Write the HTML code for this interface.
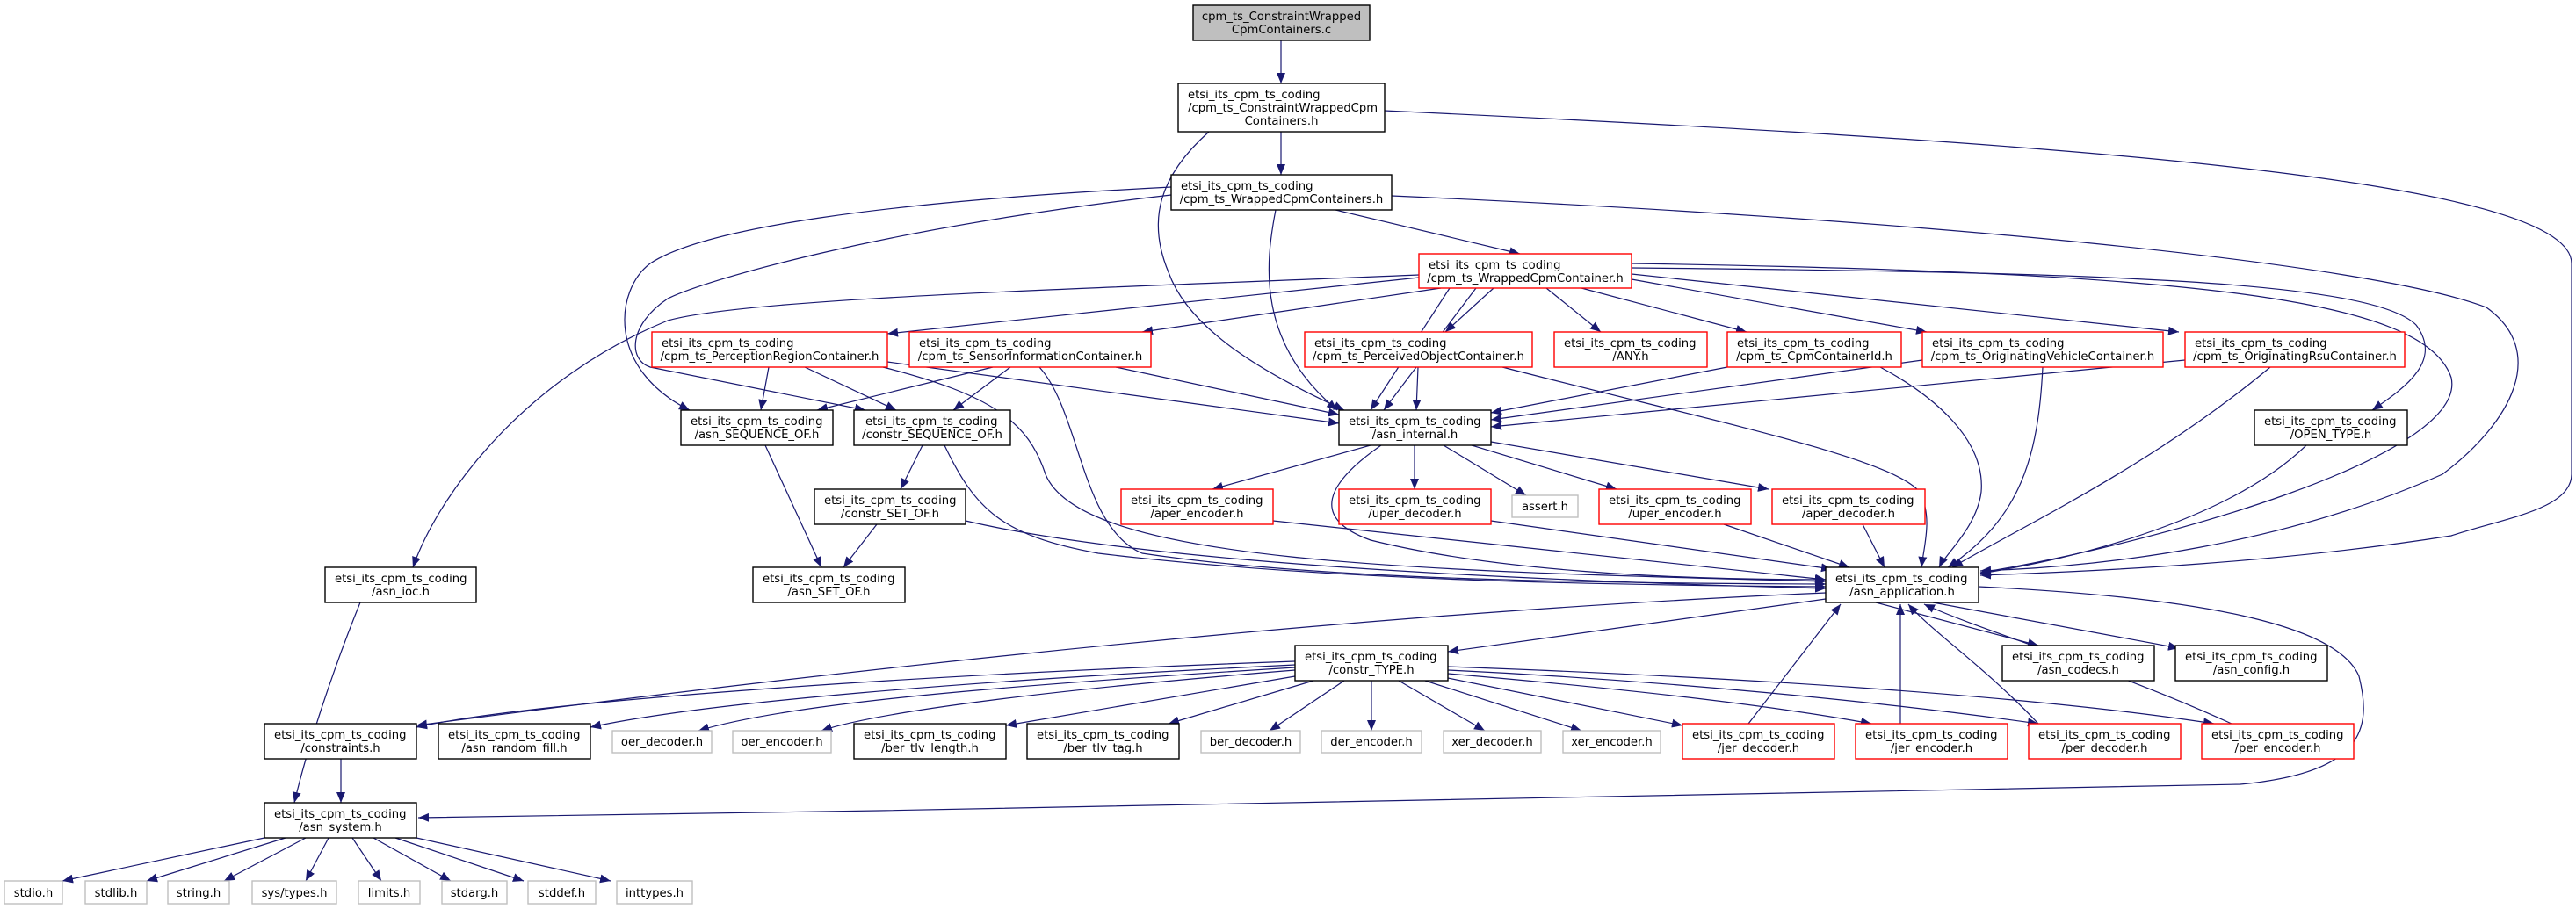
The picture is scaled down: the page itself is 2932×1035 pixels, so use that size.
<!DOCTYPE html>
<html><head><meta charset="utf-8"><style>
html,body{margin:0;padding:0;background:#fff;}
svg{display:block}
text{font-family:"DejaVu Sans","Liberation Sans",sans-serif;font-size:13.2px;fill:#000}
.b{fill:#fff;stroke:#000;stroke-width:1.4}
.r{fill:#fff;stroke:#ff0000;stroke-width:1.4}
.g{fill:#fff;stroke:#bfbfbf;stroke-width:1.4}
.e{fill:none;stroke:#191970;stroke-width:1.2}
</style></head><body>
<svg width="2932" height="1035" viewBox="0 0 2932 1035" xmlns="http://www.w3.org/2000/svg">
<defs><marker id="a" markerUnits="userSpaceOnUse" markerWidth="14" markerHeight="12" refX="12" refY="5" orient="auto"><path d="M0,0 L12,5 L0,10 z" fill="#191970"/></marker></defs>
<g class="e" marker-end="url(#a)">
<path d="M1458,46 L1458,95"/>
<path d="M1458,150 L1458,199"/>
<path d="M1376,150 C1320,200 1305,250 1330,310 C1355,380 1450,430 1530,467"/>
<path d="M1576,126 C2300,160 2927,200 2927,300 L2927,540 C2927,580 2850,590 2790,610 C2600,640 2400,650 2254,655"/>
<path d="M1520,239 L1730,289"/>
<path d="M1452,239 C1440,300 1430,390 1522,467"/>
<path d="M1584,223 C2200,250 2700,300 2830,350 C2900,400 2860,480 2780,540 C2600,620 2400,645 2254,650"/>
<path d="M1333,213 C1000,230 800,260 740,300 C700,330 690,420 785,467"/>
<path d="M1333,222 C1000,260 800,320 760,340 C715,370 715,410 740,418 L985,467"/>
<path d="M1615,316 L1010,380"/>
<path d="M1640,328 L1300,378"/>
<path d="M1700,328 L1645,378"/>
<path d="M1760,328 L1822,378"/>
<path d="M1800,328 L1988,378"/>
<path d="M1857,318 L2193,378"/>
<path d="M1857,312 L2480,378"/>
<path d="M1857,305 C2400,310 2700,320 2750,370 C2780,410 2740,440 2700,467"/>
<path d="M1857,300 C2500,310 2760,340 2790,430 C2810,520 2450,620 2254,652"/>
<path d="M1650,328 L1560,467"/>
<path d="M1680,328 L1575,467"/>
<path d="M1615,313 C1200,330 850,340 760,365 C600,430 500,560 470,646"/>
<path d="M875,418 L866,467"/>
<path d="M916,418 L1020,467"/>
<path d="M1010,412 L1524,482"/>
<path d="M1005,418 C1130,450 1170,480 1190,540 C1230,640 1600,650 2078,662"/>
<path d="M1130,418 L930,467"/>
<path d="M1150,418 L1085,467"/>
<path d="M1270,418 L1524,472"/>
<path d="M1183,418 C1230,470 1230,600 1300,630 C1500,660 1800,664 2078,665"/>
<path d="M1614,418 L1612,467"/>
<path d="M1710,418 C1950,480 2150,520 2185,560 C2200,590 2190,620 2187,646"/>
<path d="M1966,418 L1697,470"/>
<path d="M2140,418 C2200,450 2260,500 2255,560 C2250,600 2215,630 2207,646"/>
<path d="M2188,410 L1697,478"/>
<path d="M2325,418 C2320,520 2300,590 2217,646"/>
<path d="M2487,410 L1697,486"/>
<path d="M2584,418 C2450,530 2300,600 2222,646"/>
<path d="M2625,507 C2550,580 2400,630 2254,653"/>
<path d="M871,507 L935,646"/>
<path d="M1050,507 L1025,557"/>
<path d="M1075,507 C1110,580 1140,610 1250,630 C1500,660 1800,666 2078,668"/>
<path d="M998,597 L960,646"/>
<path d="M1099,593 C1300,640 1700,660 2078,670"/>
<path d="M1560,507 L1380,557"/>
<path d="M1610,507 L1610,557"/>
<path d="M1643,507 L1737,564"/>
<path d="M1675,507 L1840,557"/>
<path d="M1697,503 L2013,557"/>
<path d="M1572,507 C1510,550 1490,590 1560,615 C1700,650 1900,660 2078,660"/>
<path d="M1449,593 L2078,660"/>
<path d="M1697,593 L2085,648"/>
<path d="M1962,597 L2105,646"/>
<path d="M2120,597 L2145,646"/>
<path d="M410,686 C380,760 350,850 335,914"/>
<path d="M2078,682 L1648,742"/>
<path d="M2135,686 L2320,735"/>
<path d="M2200,686 L2480,738"/>
<path d="M2078,675 C1500,700 900,770 474,826"/>
<path d="M2252,668 C2500,680 2660,710 2685,770 C2700,830 2690,880 2550,893 L1000,923 C700,928 550,930 476,931"/>
<path d="M1990,824 L2095,688"/>
<path d="M2163,824 L2163,688"/>
<path d="M2320,824 C2260,760 2200,720 2172,688"/>
<path d="M2540,824 C2400,760 2260,720 2190,688"/>
<path d="M1474,753 C1000,770 600,800 474,828"/>
<path d="M1474,757 C1100,775 800,800 672,828"/>
<path d="M1474,760 C1150,780 900,800 795,832"/>
<path d="M1474,763 C1200,785 1000,810 935,832"/>
<path d="M1474,770 L1145,826"/>
<path d="M1495,775 L1330,824"/>
<path d="M1530,775 L1445,832"/>
<path d="M1561,775 L1561,832"/>
<path d="M1592,775 L1690,832"/>
<path d="M1622,775 L1800,832"/>
<path d="M1648,772 L1915,826"/>
<path d="M1648,767 C1800,780 2000,800 2130,824"/>
<path d="M1648,763 C1900,775 2150,800 2320,824"/>
<path d="M1648,759 C1950,770 2300,790 2520,824"/>
<path d="M388,864 L388,914"/>
<path d="M301,954 L71,1003"/>
<path d="M325,954 L167,1003"/>
<path d="M348,954 L255,1003"/>
<path d="M374,954 L348,1003"/>
<path d="M401,954 L434,1003"/>
<path d="M425,954 L513,1003"/>
<path d="M450,954 L596,1003"/>
<path d="M474,954 L695,1003"/>
</g>

<rect x="1358" y="6" width="201" height="40" fill="#bfbfbf" stroke="#000" stroke-width="1.4"/>
<text x="1458.5" y="23" text-anchor="middle">cpm_ts_ConstraintWrapped</text>
<text x="1458.5" y="38" text-anchor="middle">CpmContainers.c</text>

<rect class="b" x="1341" y="95" width="235" height="55"/>
<text x="1352" y="112">etsi_its_cpm_ts_coding</text>
<text x="1352" y="127">/cpm_ts_ConstraintWrappedCpm</text>
<text x="1458.5" y="142" text-anchor="middle">Containers.h</text>

<rect class="b" x="1333" y="199" width="251" height="40"/>
<text x="1344" y="216">etsi_its_cpm_ts_coding</text>
<text x="1458.5" y="231" text-anchor="middle">/cpm_ts_WrappedCpmContainers.h</text>

<rect class="r" x="1615" y="289" width="242" height="39"/>
<text x="1626" y="306">etsi_its_cpm_ts_coding</text>
<text x="1736" y="321" text-anchor="middle">/cpm_ts_WrappedCpmContainer.h</text>

<rect class="r" x="742" y="378" width="268" height="40"/>
<text x="753" y="395">etsi_its_cpm_ts_coding</text>
<text x="876" y="410" text-anchor="middle">/cpm_ts_PerceptionRegionContainer.h</text>
<rect class="r" x="1035" y="378" width="275" height="40"/>
<text x="1046" y="395">etsi_its_cpm_ts_coding</text>
<text x="1172.5" y="410" text-anchor="middle">/cpm_ts_SensorInformationContainer.h</text>
<rect class="r" x="1485" y="378" width="259" height="40"/>
<text x="1496" y="395">etsi_its_cpm_ts_coding</text>
<text x="1614.5" y="410" text-anchor="middle">/cpm_ts_PerceivedObjectContainer.h</text>
<rect class="r" x="1769" y="378" width="174" height="40"/>
<text x="1780" y="395">etsi_its_cpm_ts_coding</text>
<text x="1856" y="410" text-anchor="middle">/ANY.h</text>
<rect class="r" x="1966" y="378" width="198" height="40"/>
<text x="1977" y="395">etsi_its_cpm_ts_coding</text>
<text x="2065" y="410" text-anchor="middle">/cpm_ts_CpmContainerId.h</text>
<rect class="r" x="2188" y="378" width="274" height="40"/>
<text x="2199" y="395">etsi_its_cpm_ts_coding</text>
<text x="2325" y="410" text-anchor="middle">/cpm_ts_OriginatingVehicleContainer.h</text>
<rect class="r" x="2487" y="378" width="250" height="40"/>
<text x="2498" y="395">etsi_its_cpm_ts_coding</text>
<text x="2612" y="410" text-anchor="middle">/cpm_ts_OriginatingRsuContainer.h</text>

<rect class="b" x="775" y="467" width="173" height="40"/>
<text x="786" y="484">etsi_its_cpm_ts_coding</text>
<text x="861.5" y="499" text-anchor="middle">/asn_SEQUENCE_OF.h</text>
<rect class="b" x="972" y="467" width="178" height="40"/>
<text x="985" y="484">etsi_its_cpm_ts_coding</text>
<text x="1061" y="499" text-anchor="middle">/constr_SEQUENCE_OF.h</text>
<rect class="b" x="1524" y="467" width="173" height="40"/>
<text x="1535" y="484">etsi_its_cpm_ts_coding</text>
<text x="1610.5" y="499" text-anchor="middle">/asn_internal.h</text>
<rect class="b" x="2566" y="467" width="174" height="40"/>
<text x="2577" y="484">etsi_its_cpm_ts_coding</text>
<text x="2653" y="499" text-anchor="middle">/OPEN_TYPE.h</text>

<rect class="b" x="927" y="557" width="172" height="40"/>
<text x="938" y="574">etsi_its_cpm_ts_coding</text>
<text x="1013" y="589" text-anchor="middle">/constr_SET_OF.h</text>
<rect class="r" x="1276" y="557" width="173" height="40"/>
<text x="1287" y="574">etsi_its_cpm_ts_coding</text>
<text x="1362.5" y="589" text-anchor="middle">/aper_encoder.h</text>
<rect class="r" x="1524" y="557" width="173" height="40"/>
<text x="1535" y="574">etsi_its_cpm_ts_coding</text>
<text x="1610.5" y="589" text-anchor="middle">/uper_decoder.h</text>
<rect class="g" x="1721" y="564" width="75" height="25"/>
<text x="1758.5" y="581" text-anchor="middle">assert.h</text>
<rect class="r" x="1820" y="557" width="173" height="40"/>
<text x="1831" y="574">etsi_its_cpm_ts_coding</text>
<text x="1906.5" y="589" text-anchor="middle">/uper_encoder.h</text>
<rect class="r" x="2017" y="557" width="174" height="40"/>
<text x="2028" y="574">etsi_its_cpm_ts_coding</text>
<text x="2104" y="589" text-anchor="middle">/aper_decoder.h</text>

<rect class="b" x="370" y="646" width="172" height="40"/>
<text x="381" y="663">etsi_its_cpm_ts_coding</text>
<text x="456" y="678" text-anchor="middle">/asn_ioc.h</text>
<rect class="b" x="857" y="646" width="173" height="40"/>
<text x="868" y="663">etsi_its_cpm_ts_coding</text>
<text x="943.5" y="678" text-anchor="middle">/asn_SET_OF.h</text>
<rect class="b" x="2078" y="646" width="174" height="40"/>
<text x="2089" y="663">etsi_its_cpm_ts_coding</text>
<text x="2165" y="678" text-anchor="middle">/asn_application.h</text>

<rect class="b" x="1474" y="735" width="174" height="40"/>
<text x="1485" y="752">etsi_its_cpm_ts_coding</text>
<text x="1561" y="767" text-anchor="middle">/constr_TYPE.h</text>
<rect class="b" x="2279" y="735" width="173" height="40"/>
<text x="2290" y="752">etsi_its_cpm_ts_coding</text>
<text x="2365.5" y="767" text-anchor="middle">/asn_codecs.h</text>
<rect class="b" x="2476" y="735" width="173" height="40"/>
<text x="2487" y="752">etsi_its_cpm_ts_coding</text>
<text x="2562.5" y="767" text-anchor="middle">/asn_config.h</text>

<rect class="b" x="301" y="824" width="173" height="40"/>
<text x="312" y="841">etsi_its_cpm_ts_coding</text>
<text x="387.5" y="856" text-anchor="middle">/constraints.h</text>
<rect class="b" x="499" y="824" width="173" height="40"/>
<text x="510" y="841">etsi_its_cpm_ts_coding</text>
<text x="585.5" y="856" text-anchor="middle">/asn_random_fill.h</text>
<rect class="g" x="697" y="832" width="113" height="25"/>
<text x="753.5" y="849" text-anchor="middle">oer_decoder.h</text>
<rect class="g" x="834" y="832" width="112" height="25"/>
<text x="890" y="849" text-anchor="middle">oer_encoder.h</text>
<rect class="b" x="972" y="824" width="173" height="40"/>
<text x="983" y="841">etsi_its_cpm_ts_coding</text>
<text x="1058.5" y="856" text-anchor="middle">/ber_tlv_length.h</text>
<rect class="b" x="1169" y="824" width="173" height="40"/>
<text x="1180" y="841">etsi_its_cpm_ts_coding</text>
<text x="1255.5" y="856" text-anchor="middle">/ber_tlv_tag.h</text>
<rect class="g" x="1367" y="832" width="113" height="25"/>
<text x="1423.5" y="849" text-anchor="middle">ber_decoder.h</text>
<rect class="g" x="1504" y="832" width="114" height="25"/>
<text x="1561" y="849" text-anchor="middle">der_encoder.h</text>
<rect class="g" x="1643" y="832" width="111" height="25"/>
<text x="1698.5" y="849" text-anchor="middle">xer_decoder.h</text>
<rect class="g" x="1779" y="832" width="111" height="25"/>
<text x="1834.5" y="849" text-anchor="middle">xer_encoder.h</text>
<rect class="r" x="1915" y="824" width="173" height="40"/>
<text x="1926" y="841">etsi_its_cpm_ts_coding</text>
<text x="2001.5" y="856" text-anchor="middle">/jer_decoder.h</text>
<rect class="r" x="2112" y="824" width="173" height="40"/>
<text x="2123" y="841">etsi_its_cpm_ts_coding</text>
<text x="2198.5" y="856" text-anchor="middle">/jer_encoder.h</text>
<rect class="r" x="2309" y="824" width="173" height="40"/>
<text x="2320" y="841">etsi_its_cpm_ts_coding</text>
<text x="2395.5" y="856" text-anchor="middle">/per_decoder.h</text>
<rect class="r" x="2506" y="824" width="173" height="40"/>
<text x="2517" y="841">etsi_its_cpm_ts_coding</text>
<text x="2592.5" y="856" text-anchor="middle">/per_encoder.h</text>

<rect class="b" x="301" y="914" width="173" height="40"/>
<text x="312" y="931">etsi_its_cpm_ts_coding</text>
<text x="387.5" y="946" text-anchor="middle">/asn_system.h</text>

<rect class="g" x="5" y="1003" width="66" height="26"/><text x="38" y="1021" text-anchor="middle">stdio.h</text>
<rect class="g" x="97" y="1003" width="70" height="26"/><text x="132" y="1021" text-anchor="middle">stdlib.h</text>
<rect class="g" x="191" y="1003" width="70" height="26"/><text x="226" y="1021" text-anchor="middle">string.h</text>
<rect class="g" x="287" y="1003" width="96" height="26"/><text x="335" y="1021" text-anchor="middle">sys/types.h</text>
<rect class="g" x="408" y="1003" width="70" height="26"/><text x="443" y="1021" text-anchor="middle">limits.h</text>
<rect class="g" x="503" y="1003" width="74" height="26"/><text x="540" y="1021" text-anchor="middle">stdarg.h</text>
<rect class="g" x="601" y="1003" width="77" height="26"/><text x="639.5" y="1021" text-anchor="middle">stddef.h</text>
<rect class="g" x="702" y="1003" width="86" height="26"/><text x="745" y="1021" text-anchor="middle">inttypes.h</text>
</svg>
</body></html>
